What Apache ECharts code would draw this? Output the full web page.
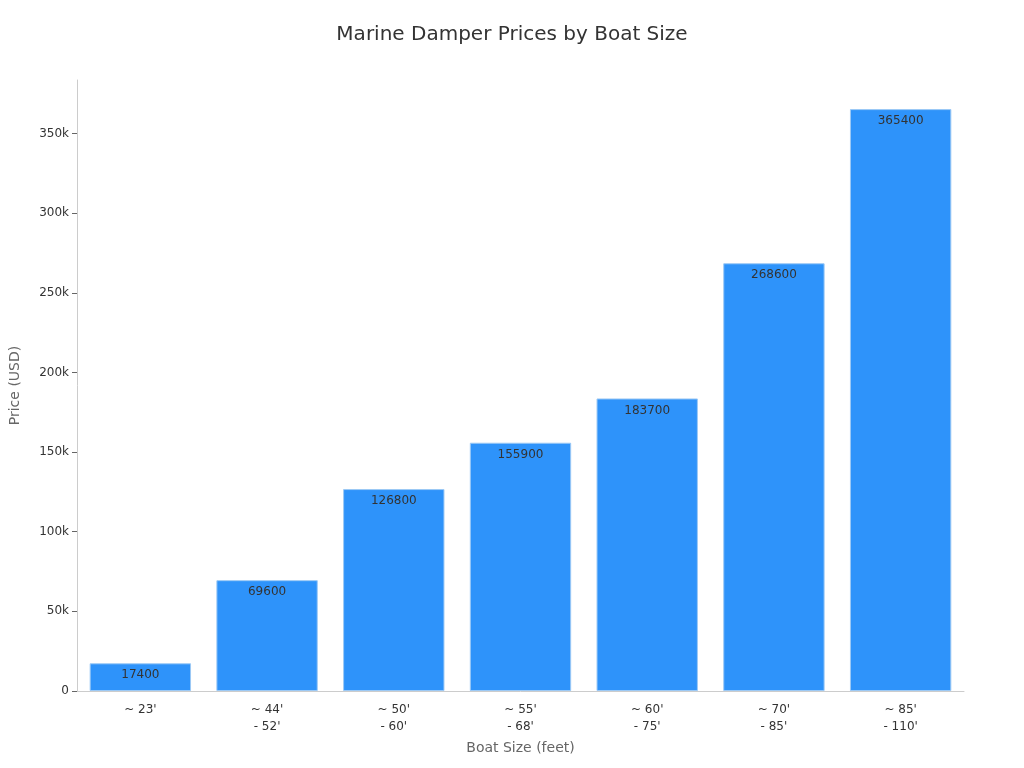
<!DOCTYPE html>
<html><head><meta charset="utf-8">
<script src="https://cdn.jsdelivr.net/npm/echarts@6/dist/echarts.min.js"></script>
<style>html,body{margin:0;padding:0;background:#fff}#c{width:1024px;height:768px}</style>
</head><body><div id="c"></div>
<script>
var categories = ["~ 23'", "~ 44'\n- 52'", "~ 50'\n- 60'", "~ 55'\n- 68'", "~ 60'\n- 75'", "~ 70'\n- 85'", "~ 85'\n- 110'"];
var prices = [17400, 69600, 126800, 155900, 183700, 268600, 365400];
var yTickInterval = 50000;

var chart = echarts.init(document.getElementById('c'));
chart.setOption({
  backgroundColor: '#fff',
  textStyle: { fontFamily: 'DejaVu Sans' },
  title: { text: 'Marine Damper Prices by Boat Size', left: 'center', top: 20,
    textStyle: { fontSize: 20, fontWeight: 'normal', color: '#333', fontFamily: 'DejaVu Sans' } },
  grid: { left: 75, right: 60, top: 80, bottom: 77 },
  xAxis: {
    type: 'category', data: categories,
    name: 'Boat Size (feet)', nameLocation: 'middle', nameGap: 50,
    nameTextStyle: { color: '#666', fontSize: 14 },
    axisLine: { lineStyle: { color: '#ccc' } },
    axisTick: { alignWithLabel: true, lineStyle: { color: '#666' } },
    axisLabel: { color: '#333', fontSize: 12, lineHeight: 17, margin: 10 }
  },
  yAxis: {
    type: 'value', min: 0, max: function (v) { return v.max * 1.05; }, interval: yTickInterval,
    name: 'Price (USD)', nameLocation: 'middle', nameGap: 55,
    nameTextStyle: { color: '#666', fontSize: 14 },
    axisLine: { show: true, lineStyle: { color: '#ccc' } },
    axisTick: { show: true, length: 5, lineStyle: { color: '#666' } },
    splitLine: { show: false },
    axisLabel: { color: '#333', fontSize: 12, showMaxLabel: false, margin: 8,
      formatter: function (v) { return v === 0 ? '0' : (v / 1000) + 'k'; } }
  },
  series: [{
    type: 'bar', data: prices, barCategoryGap: '20%',
    itemStyle: { color: '#2E93FA', borderColor: '#9cc9f5', borderWidth: 1 },
    label: { show: true, position: 'insideTop', color: '#333', fontSize: 12, distance: 6 }
  }]
});
</script></body></html>
